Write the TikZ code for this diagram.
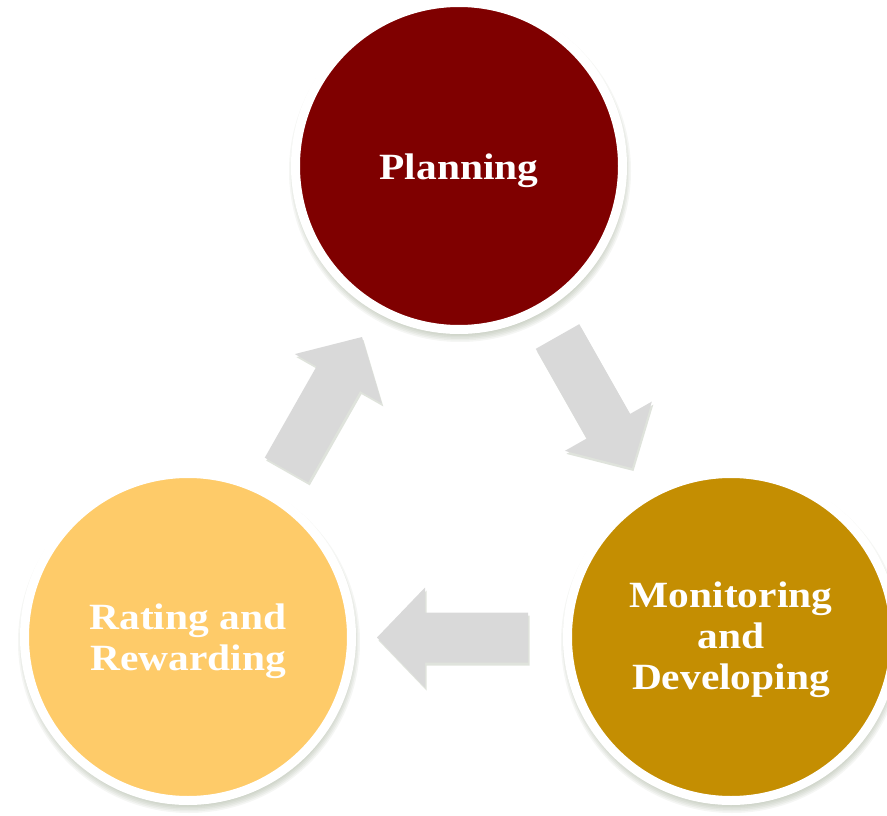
\documentclass[tikz,border=0pt]{standalone}
\usepackage{fontspec}
\newfontfamily\lblfont[FakeStretch=1.12]{Liberation Serif}
\usetikzlibrary{calc}

\definecolor{planred}{HTML}{7F0000}
\definecolor{mongold}{HTML}{C48E02}
\definecolor{rateyellow}{HTML}{FECB69}
\definecolor{arrowgray}{HTML}{D9D9D9}
\definecolor{shadowgreen}{HTML}{6E7F5E}

\tikzset{
  stage/.style={circle, draw=white, line width=9pt, minimum size=327pt,
    inner sep=0pt},
  stagetext/.style={text=white, align=center, inner sep=0pt,
    font=\lblfont\bfseries\fontsize{37}{41}\selectfont},
  flowfill/.style={fill=arrowgray},
  flowshade/.style={fill=shadowgreen, fill opacity=0.22,
    transform canvas={xshift=1.5pt, yshift=-3pt}},
}

% soft shadow under a stage circle
\newcommand\stageshadow[1]{%
  \foreach \r in {171,169.5,...,163}
    \fill[shadowgreen, fill opacity=0.07] ($(#1)+(1,5)$) circle (\r pt);
}

% block arrow from #2 (tail) to #3 (tip)
\newcommand\flowarrow[3]{%
  \coordinate (fa-j) at ($(#3)!48pt!(#2)$);
  \path[#1] ($(#2)!25pt!90:(#3)$) -- ($(fa-j)!25pt!90:(#3)$)
    -- ($(fa-j)!50pt!90:(#3)$) -- (#3) -- ($(fa-j)!50pt!-90:(#3)$)
    -- ($(fa-j)!25pt!-90:(#3)$) -- ($(#2)!25pt!-90:(#3)$) -- cycle;
}

\begin{document}
\begin{tikzpicture}[x=1pt, y=-1pt]
  \useasboundingbox (0,0) rectangle (887,816);
  \clip (0,0) rectangle (887,816);

  % circle centres
  \coordinate (cP) at (459,166);
  \coordinate (cM) at (731,637);
  \coordinate (cR) at (188,637);

  % arrow ends
  \coordinate (a1tail) at (286.5,470);
  \coordinate (a1tip)  at (362,337);
  \coordinate (a2tail) at (557.5,336.5);
  \coordinate (a2tip)  at (632,468);
  \coordinate (a3tail) at (528,637.5);
  \coordinate (a3tip)  at (377,637.5);

  % shadows
  \stageshadow{cP}
  \stageshadow{cM}
  \stageshadow{cR}
  \flowarrow{flowshade}{a1tail}{a1tip}
  \flowarrow{flowshade}{a2tail}{a2tip}
  \flowarrow{flowshade}{a3tail}{a3tip}

  % arrows
  \flowarrow{flowfill}{a1tail}{a1tip}
  \flowarrow{flowfill}{a2tail}{a2tip}
  \flowarrow{flowfill}{a3tail}{a3tip}

  % stages
  \node[stage, fill=planred]    (plan) at (cP) {};
  \node[stage, fill=mongold]    (mon)  at (cM) {};
  \node[stage, fill=rateyellow] (rate) at (cR) {};

  % stage names
  \node[stagetext] (plantxt) at ($(plan.center)+(0,5)$) {Planning};
  \node[stagetext] (montxt)  at ($(mon.center)+(0,3)$) {Monitoring\\and\\Developing};
  \node[stagetext] (ratetxt) at ($(rate.center)+(0,4)$) {Rating and\\Rewarding};
\end{tikzpicture}
\end{document}
